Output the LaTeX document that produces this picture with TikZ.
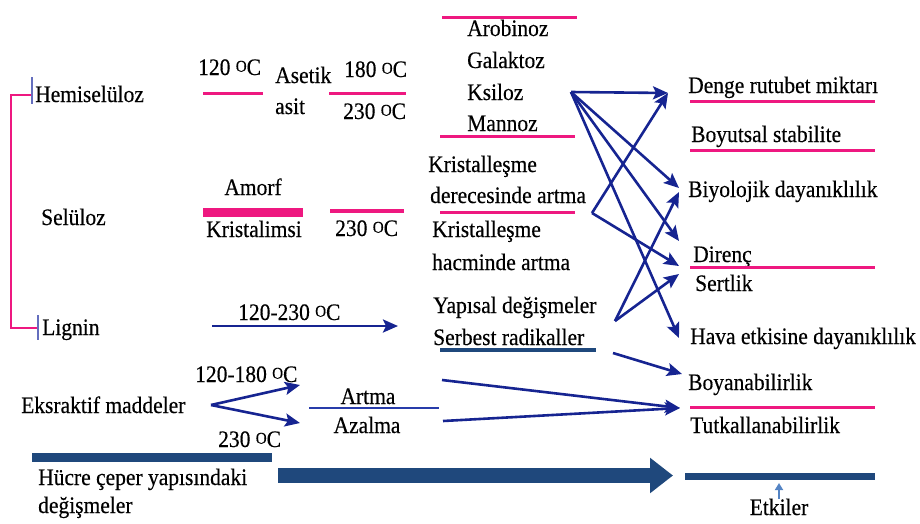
\documentclass[tikz,border=0pt]{standalone}
\usepackage{fontspec}
\setmainfont{Liberation Serif}
\newfontfamily\heavyfont{Liberation Serif}[FakeBold=0.4]
\usetikzlibrary{arrows.meta}
\definecolor{pinkc}{RGB}{238,24,128}
\definecolor{navyc}{RGB}{22,36,145}
\definecolor{linec}{RGB}{40,60,170}
\definecolor{barc}{RGB}{31,72,124}
\definecolor{lightc}{RGB}{84,132,196}
\definecolor{tickc}{RGB}{100,110,190}
\newcommand{\dgc}{\raisebox{3pt}{\fontsize{15}{15}\selectfont O}C}
\begin{document}
\begin{tikzpicture}[x=1pt,y=-1pt,
  txt/.style={inner sep=0pt, anchor=base west, yscale=1.1, transform shape, font=\heavyfont\fontsize{21.5}{24}\selectfont},
  ctxt/.style={txt, anchor=base},
  pinkline/.style={pinkc, line width=3pt},
  conn/.style={navyc, line width=2.6pt, -{Stealth[length=15pt,width=13pt,inset=3pt]}},
  thickbar/.style={barc, line width=9pt}]
\useasboundingbox (0,0) rectangle (920,523);

% left column texts
\node[txt] (hemi) at (35,102) {Hemiselüloz};
\node[txt] (h120) at (198,75) {120 \dgc};
\node[txt] (aset) at (275,83) {Asetik};
\node[txt] (asit) at (275,114) {asit};
\node[txt] (h180) at (344,77) {180 \dgc};
\node[txt] (h230) at (343,119) {230 \dgc};
\node[txt] (selu) at (41,225) {Selüloz};
\node[ctxt] (amorf) at (253,195) {Amorf};
\node[ctxt] (krist) at (254,237) {Kristalimsi};
\node[txt] (s230) at (335,236) {230 \dgc};
\node[txt] (lig) at (42,335) {Lignin};
\node[txt] (l120) at (238,320) {120-230 \dgc};
\node[txt] (eks) at (21,413) {Eksraktif maddeler};
\node[txt] (e120) at (195,382) {120-180 \dgc};
\node[txt] (e230) at (218,447) {230 \dgc};
\node[ctxt] (artma) at (368,404) {Artma};
\node[ctxt] (azal) at (367,433) {Azalma};
\node[txt] (hucre) at (38,485) {Hücre çeper yapısındaki};
\node[txt] (degis) at (38,513) {değişmeler};

% middle column texts
\node[txt] (arob) at (467,36) {Arobinoz};
\node[txt] (gala) at (467,68) {Galaktoz};
\node[txt] (ksil) at (467,100) {Ksiloz};
\node[txt] (mann) at (467,131) {Mannoz};
\node[txt] (kr1) at (428,172) {Kristalleşme};
\node[txt] (der) at (430,203) {derecesinde artma};
\node[txt] (kr2) at (432,237) {Kristalleşme};
\node[txt] (hac) at (432,270) {hacminde artma};
\node[txt] (yap) at (433,313) {Yapısal değişmeler};
\node[txt] (serb) at (433,345) {Serbest radikaller};

% right column texts
\node[txt] (denge) at (688,93) {Denge rutubet miktarı};
\node[txt] (boyut) at (691,142) {Boyutsal stabilite};
\node[txt] (biyo) at (688,197) {Biyolojik dayanıklılık};
\node[txt] (diren) at (693,262) {Direnç};
\node[txt] (sert) at (695,291) {Sertlik};
\node[txt] (hava) at (690,344) {Hava etkisine dayanıklılık};
\node[txt] (boya) at (688,390) {Boyanabilirlik};
\node[txt] (tutk) at (690,433) {Tutkallanabilirlik};
\node[ctxt] (etk) at (779,515) {Etkiler};

% pink rules
\draw[pinkline] (442,17) -- (577,17);
\draw[pinkline] (440,136) -- (575,136);
\draw[pinkline] (440,212) -- (575,212);
\draw[pinkline] (203,93) -- (263,93);
\draw[pinkline] (329,93) -- (406,93);
\draw[pinkc, line width=9pt] (203,212) -- (303,212);
\draw[pinkc, line width=4pt] (330,211) -- (404,211);
\draw[pinkline] (690,101) -- (875,101);
\draw[pinkline] (690,150) -- (875,150);
\draw[pinkline] (690,267) -- (875,267);
\draw[pinkline] (690,407) -- (875,407);

% bracket
\draw[pinkc, line width=1.6pt] (32,95) -- (11,95) -- (11,328) -- (38,328);
\draw[tickc, line width=1.2pt] (32,77) -- (32,104);
\draw[tickc, line width=1.2pt] (38,315) -- (38,340);

% bars
\draw[thickbar] (32,457) -- (272,457);
\draw[barc, line width=7pt] (685,476.5) -- (875,476.5);
\draw[barc, line width=3.5pt] (440,350) -- (596,350);
\draw[linec, line width=1.3pt] (309,408) -- (439,408);

% big arrow
\coordinate (bigA) at (278,475.5);
\coordinate (bigB) at (673,475.5);
\draw[barc, line width=15pt, -{Triangle[length=23pt,width=34pt]}] (bigA) -- (bigB);

% small arrow to Etkiler bar
\coordinate (etA) at (779,499);
\coordinate (etB) at (779,483);
\draw[lightc, line width=2pt, -{Triangle[length=7pt,width=8pt]}] (etA) -- (etB);

% vertex points and arrow ends
\coordinate (K) at (571,92);
\coordinate (D) at (592,213);
\coordinate (Y) at (615,321);
\coordinate (tDenge) at (668,93);
\coordinate (tBiyo1) at (679,188);
\coordinate (tDir1) at (679,241);
\coordinate (tHava) at (679,338);
\coordinate (tDir2) at (679,266);
\coordinate (tBiyo2) at (679,192);
\coordinate (tDir3) at (679,274);

\draw[conn] (K) -- (tDenge);
\draw[conn] (K) -- (tBiyo1);
\draw[conn] (K) -- (tDir1);
\draw[conn] (K) -- (tHava);
\draw[conn] (D) -- (tDenge);
\draw[conn] (D) -- (tDir2);
\draw[conn] (Y) -- (tBiyo2);
\draw[conn] (Y) -- (tDir3);

% lignin arrow
\coordinate (lA) at (212,326);
\coordinate (lB) at (398,326);
\draw[conn] (lA) -- (lB);

% fork from extractives
\coordinate (F) at (211,405);
\coordinate (fU) at (300,385);
\coordinate (fD) at (300,423);
\draw[conn] (F) -- (fU);
\draw[conn] (F) -- (fD);

% serbest radikaller -> boyanabilirlik
\coordinate (sA) at (613,353);
\coordinate (sB) at (682,374);
\draw[conn] (sA) -- (sB);

% artma/azalma -> tutkallanabilirlik
\coordinate (aA) at (442,380);
\coordinate (zA) at (443,421);
\coordinate (tT) at (680,408);
\draw[conn] (aA) -- (tT);
\draw[conn] (zA) -- (tT);
\end{tikzpicture}
\end{document}
